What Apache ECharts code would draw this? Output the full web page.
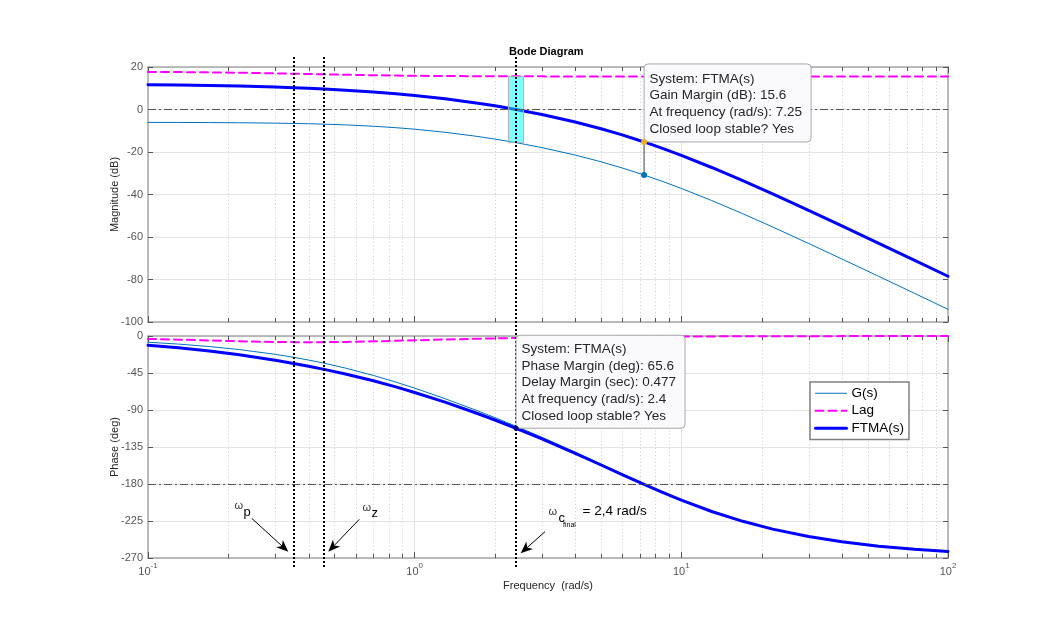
<!DOCTYPE html>
<html><head><meta charset="utf-8">
<script src="https://cdn.jsdelivr.net/npm/echarts@6/dist/echarts.min.js"></script>
<style>html,body{margin:0;padding:0;background:#fff}#c{width:1047px;height:629px}</style>
</head><body><div id="c"></div>
<script>
// ---- data ----
const freq = [0.1,0.13,0.17,0.22,0.3,0.352,0.4,0.458,0.55,0.7,0.85,1,1.3,1.7,2,2.4,3,4,5,6,7.25,8.5,10,13,17,22,30,40,55,75,100];
const gMag = [-6.07,-6.10,-6.15,-6.24,-6.42,-6.56,-6.70,-6.90,-7.24,-7.87,-8.56,-9.27,-10.72,-12.59,-13.92,-15.59,-17.93,-21.44,-24.61,-27.51,-30.83,-33.85,-37.14,-42.84,-49.05,-55.29,-63.03,-70.34,-78.53,-86.55,-94.02];
const lagMag = [17.70,17.62,17.49,17.31,17.02,16.84,16.70,16.54,16.35,16.12,15.97,15.87,15.75,15.67,15.64,15.61,15.59,15.57,15.57,15.56,15.56,15.56,15.55,15.55,15.55,15.55,15.55,15.55,15.55,15.55,15.55];
const ftmaMag = [11.63,11.52,11.34,11.07,10.60,10.28,10.00,9.64,9.11,8.25,7.41,6.60,5.03,3.08,1.72,0.02,-2.34,-5.87,-9.04,-11.95,-15.27,-18.29,-21.59,-27.29,-33.50,-39.74,-47.48,-54.79,-62.98,-71.00,-78.47];
const gPhase = [-7.57,-9.83,-12.81,-16.50,-22.28,-25.94,-29.24,-33.12,-39.02,-47.96,-56.07,-63.44,-76.23,-90.31,-99.27,-109.72,-123.09,-141.19,-155.70,-167.60,-179.74,-189.56,-199.06,-212.95,-225.04,-234.62,-243.70,-250.13,-255.49,-259.34,-262.00];
const lagPhase = [-3.54,-4.42,-5.41,-6.36,-7.21,-7.45,-7.52,-7.45,-7.16,-6.50,-5.82,-5.22,-4.26,-3.38,-2.92,-2.46,-1.99,-1.50,-1.20,-1.01,-0.83,-0.71,-0.60,-0.47,-0.35,-0.27,-0.20,-0.15,-0.11,-0.08,-0.06];
const ftmaPhase = [-11.11,-14.25,-18.22,-22.86,-29.49,-33.39,-36.76,-40.57,-46.18,-54.46,-61.89,-68.66,-80.49,-93.69,-102.19,-112.18,-125.08,-142.69,-156.90,-168.61,-180.57,-190.27,-199.66,-213.42,-225.39,-234.89,-243.90,-250.28,-255.60,-259.42,-262.06];
const seriesNames = ['G(s)','Lag','FTMA(s)'];
const magRange = [-100, 20, 20];      // min, max, interval
const phaseRange = [-270, 0, 45];
const freqRange = [0.1, 100];
const minorFreqTicks = [0.2,0.3,0.4,0.5,0.6,0.7,0.8,0.9,2,3,4,5,6,7,8,9,20,30,40,50,60,70,80,90];
const markFreqs = [0.352, 0.458, 2.4];          // ω_p, ω_z, ω_c
const cyanBand = [2.4, -15.6, 15.6];            // freq, low dB, high dB
const gmPoint = [7.25, -15.27, -30.83];         // freq, FTMA dB, G dB
const pmPoint = [2.4, -112.18];                 // freq, phase
const gmTip = ['System: FTMA(s)','Gain Margin (dB): 15.6','At frequency (rad/s): 7.25','Closed loop stable? Yes'];
const pmTip = ['System: FTMA(s)','Phase Margin (deg): 65.6','Delay Margin (sec): 0.477','At frequency (rad/s): 2.4','Closed loop stable? Yes'];

const FONT = "'Liberation Sans', Arial, Helvetica, sans-serif";
const chart = echarts.init(document.getElementById('c'), null, {renderer:'canvas'});
const pairs = (ys) => freq.map((f,i)=>[f, ys[i]]);

function xAx(grid, pos, showLabels){
  return {type:'log', logBase:10, gridIndex:grid, position:pos, min:freqRange[0], max:freqRange[1],
    axisLine:{show:true, onZero:false, lineStyle:{color:'#a8a8a8', width:1.5}},
    axisTick:{show:true, inside:true, length:6, lineStyle:{color:'#555', width:1}},
    axisLabel:{show:showLabels, margin:4, showMinLabel:true, showMaxLabel:true,
      formatter:(v)=>'{b|10}{s|'+Math.round(Math.log10(v))+'}',
      rich:{b:{fontSize:11, color:'#555', fontFamily:FONT, lineHeight:20},
            s:{fontSize:8, color:'#555', fontFamily:FONT, lineHeight:10, verticalAlign:'top'}}},
    splitLine:{show:pos==='bottom', lineStyle:{color:'#e3e3e3', width:1}},
    name: (showLabels ? 'Frequency  (rad/s)' : ''), nameLocation:'middle', nameGap:22,
    nameTextStyle:{fontSize:11, color:'#262626', fontFamily:FONT}
  };
}
function yAx(grid, pos, rng, name){
  const left = pos==='left';
  return {type:'value', gridIndex:grid, position:pos, min:rng[0], max:rng[1], interval:rng[2],
    axisLine:{show:true, onZero:false, lineStyle:{color:'#a8a8a8', width:1.5}},
    axisTick:{show:true, inside:true, length:5, lineStyle:{color:'#555', width:1}},
    axisLabel:{show:left, margin:5, fontSize:11, color:'#555', fontFamily:FONT},
    splitLine:{show:left, lineStyle:{color:'#e3e3e3', width:1}},
    name: left ? name : '', nameLocation:'middle', nameGap:28, nameRotate:90, nameMoveOverlap:false,
    nameTextStyle:{fontSize:11, color:'#262626', fontFamily:FONT}
  };
}
const dashDot = {silent:true, symbol:'none', label:{show:false},
  lineStyle:{color:'#555', width:1, type:[8,3,2,3]}};

function lineSeries(name, xi, yi, ys, color, width, type, extra){
  return Object.assign({type:'line', name, xAxisIndex:xi, yAxisIndex:yi, data:pairs(ys),
    showSymbol:false, symbol:'none', smooth:false, z:3,
    lineStyle:{color, width, type, join:'round', cap:'round'}, itemStyle:{color}, emphasis:{disabled:true}, animation:false}, extra||{});
}

function minorRender(rng){
  return (params, api) => {
    const x = api.value(0);
    const t = api.coord([x, rng[1]]), b = api.coord([x, rng[0]]);
    const px = Math.round(t[0]) + 0.5;
    return {type:'group', children:[
      {type:'line', shape:{x1:px,y1:t[1],x2:px,y2:b[1]}, style:{stroke:'#cfcfcf', lineWidth:1, lineDash:[1,2.5]}},
      {type:'line', shape:{x1:px,y1:t[1],x2:px,y2:t[1]+4}, style:{stroke:'#555', lineWidth:1}},
      {type:'line', shape:{x1:px,y1:b[1],x2:px,y2:b[1]-4}, style:{stroke:'#555', lineWidth:1}}
    ]};
  };
}
function dottedRender(rng, extTop, extBot){
  return (params, api) => {
    const x = api.value(0);
    const t = api.coord([x, rng[1]]), b = api.coord([x, rng[0]]);
    const px = Math.round(t[0]);
    return {type:'line', shape:{x1:px, y1:t[1]-extTop, x2:px, y2:b[1]+extBot},
      style:{stroke:'#000', lineWidth:2, lineDash:[2,2]}};
  };
}

const option = {
  animation:false,
  backgroundColor:'#fff',
  title:{text:'Bode Diagram', left:509, top:46, padding:0,
    textStyle:{fontSize:11, fontWeight:'bold', color:'#000', fontFamily:FONT}},
  grid:[{left:148, top:67, width:800, height:255},{left:148, top:336, width:800, height:222}],
  xAxis:[xAx(0,'bottom',false), xAx(0,'top',false), xAx(1,'bottom',true), xAx(1,'top',false)],
  yAxis:[yAx(0,'left',magRange,'Magnitude (dB)'), yAx(0,'right',magRange,''),
         yAx(1,'left',phaseRange,'Phase (deg)'), yAx(1,'right',phaseRange,'')],
  legend:{data:[{name:seriesNames[0], lineStyle:{width:1}}, {name:seriesNames[1], lineStyle:{width:2}}, {name:seriesNames[2], lineStyle:{width:3}}],
    orient:'vertical', left:810, top:382, padding:[3,5,3,4], itemGap:1, itemWidth:31, itemHeight:12,
    backgroundColor:'#fff', borderColor:'#808080', borderWidth:1.5, borderRadius:0,
    itemStyle:{opacity:0}, selectedMode:false,
    textStyle:{fontSize:13.5, color:'#000', fontFamily:FONT, lineHeight:16.5}},
  series:[
    lineSeries(seriesNames[0], 0, 0, gMag, '#0072BD', 1, 'solid', {markLine:Object.assign({data:[{yAxis:0}]}, dashDot)}),
    lineSeries(seriesNames[1], 0, 0, lagMag, '#ff00ff', 2, [8,5]),
    lineSeries(seriesNames[2], 0, 0, ftmaMag, '#0000ff', 3, 'solid'),
    lineSeries(seriesNames[0], 2, 2, gPhase, '#0072BD', 1, 'solid', {markLine:Object.assign({data:[{yAxis:-180}]}, dashDot)}),
    lineSeries(seriesNames[1], 2, 2, lagPhase, '#ff00ff', 2, [8,5]),
    lineSeries(seriesNames[2], 2, 2, ftmaPhase, '#0000ff', 3, 'solid'),
    {type:'custom', xAxisIndex:0, yAxisIndex:0, z:1, silent:true, clip:false,
      data:minorFreqTicks.map(v=>[v, magRange[0]]), renderItem:minorRender(magRange)},
    {type:'custom', xAxisIndex:2, yAxisIndex:2, z:1, silent:true, clip:false,
      data:minorFreqTicks.map(v=>[v, phaseRange[0]]), renderItem:minorRender(phaseRange)},
    {type:'custom', xAxisIndex:0, yAxisIndex:0, z:4, silent:true, clip:false,
      data:[cyanBand], renderItem:(p, api)=>{
        const a = api.coord([api.value(0), api.value(2)]), b = api.coord([api.value(0), api.value(1)]);
        return {type:'rect', shape:{x:a[0]-7.5, y:a[1], width:15, height:b[1]-a[1]},
          style:{fill:'rgba(0,255,255,0.5)', stroke:'#b0b0b0', lineWidth:1}};
      }},
    {type:'custom', xAxisIndex:0, yAxisIndex:0, z:5, silent:true, clip:false,
      data:markFreqs.map(v=>[v, magRange[0]]), renderItem:dottedRender(magRange, 10, 7)},
    {type:'custom', xAxisIndex:2, yAxisIndex:2, z:5, silent:true, clip:false,
      data:markFreqs.map(v=>[v, phaseRange[0]]), renderItem:dottedRender(phaseRange, 7, 9)},
    {type:'custom', xAxisIndex:0, yAxisIndex:0, z:6, silent:true, clip:false,
      data:[gmPoint], renderItem:(p, api)=>{
        const a = api.coord([api.value(0), api.value(1)]), b = api.coord([api.value(0), api.value(2)]);
        const w = 167, h = 78;
        return {type:'group', children:[
          {type:'line', shape:{x1:a[0],y1:a[1],x2:b[0],y2:b[1]}, style:{stroke:'#404040', lineWidth:1}},
          {type:'circle', shape:{cx:b[0],cy:b[1],r:3}, style:{fill:'#0072BD'}},
          {type:'rect', shape:{x:a[0], y:a[1]-h, width:w, height:h, r:4}, style:{fill:'#fafafd', stroke:'#a8a8a8', lineWidth:1}},
          {type:'circle', shape:{cx:a[0],cy:a[1],r:3}, style:{fill:'#EDB120'}},
          {type:'text', x:a[0]+5.5, y:a[1]-h+6.5, style:{text:gmTip.join('\n'), fontSize:13.5, fontFamily:FONT,
            lineHeight:16.7, fill:'#262626', align:'left', verticalAlign:'top'}}
        ]};
      }},
    {type:'custom', xAxisIndex:2, yAxisIndex:2, z:6, silent:true, clip:false,
      data:[pmPoint], renderItem:(p, api)=>{
        const a = api.coord([api.value(0), api.value(1)]);
        const w = 169, h = 93;
        return {type:'group', children:[
          {type:'rect', shape:{x:a[0], y:a[1]-h, width:w, height:h, r:4}, style:{fill:'#fafafd', stroke:'#a8a8a8', lineWidth:1}},
          {type:'circle', shape:{cx:a[0],cy:a[1],r:2.5}, style:{fill:'#00007f'}},
          {type:'text', x:a[0]+5.5, y:a[1]-h+5.5, style:{text:pmTip.join('\n'), fontSize:13.5, fontFamily:FONT,
            lineHeight:16.7, fill:'#262626', align:'left', verticalAlign:'top'}}
        ]};
      }}
  ]
};

// annotation arrows / labels
function arrow(x1,y1,x2,y2){
  const ang = Math.atan2(y2-y1, x2-x1), L = 12, W = 5;
  const c = Math.cos(ang), s = Math.sin(ang);
  const bx = x2 - L*c, by = y2 - L*s, nx = x2 - 0.72*L*c, ny = y2 - 0.72*L*s;
  return [
    {type:'line', shape:{x1, y1, x2:nx, y2:ny}, style:{stroke:'#000', lineWidth:1}},
    {type:'polygon', shape:{points:[[x2,y2],[bx - s*W, by + c*W],[nx,ny],[bx + s*W, by - c*W]]}, style:{fill:'#000'}}
  ];
}
function txt(x, y, text, size, color){
  return {type:'text', x, y, style:{text, fontSize:size, fontFamily:FONT, fill:color||'#000', align:'left', verticalAlign:'middle'}};
}
option.graphic = [].concat(
  arrow(251.7,518.3,288.3,551.7), arrow(359.3,519.3,328.3,551.7), arrow(545,531.7,520.7,553.3),
  [txt(234.5,506,'ω',11,'#333'), txt(243.5,512,'p',13),
   txt(362.5,507.5,'ω',11,'#333'), txt(371.5,513,'z',13),
   txt(548.5,511.5,'ω',11,'#333'), txt(558.5,518.5,'c',13), txt(563,525.5,'final',7),
   txt(582.5,511,'= 2,4 rad/s',13.5)]
).map(g => Object.assign({z:100, silent:true}, g));

chart.setOption(option);
</script></body></html>
